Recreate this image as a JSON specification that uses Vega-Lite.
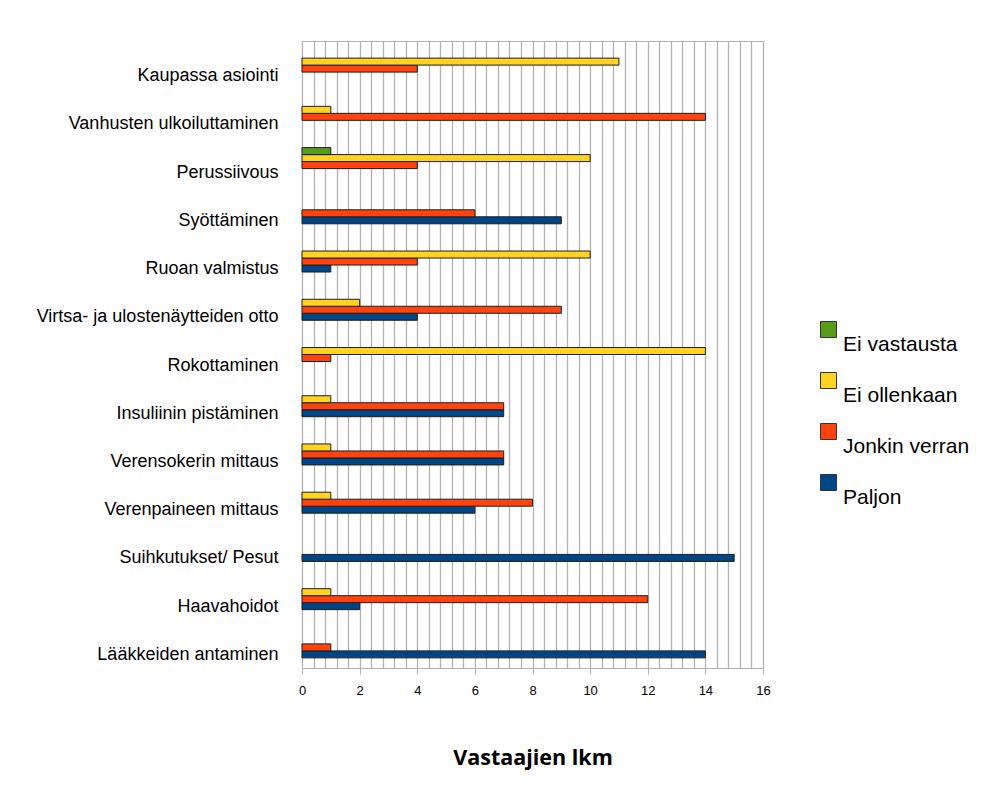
{
  "$schema": "https://vega.github.io/schema/vega-lite/v6.json",
  "width": 461,
  "height": 627,
  "autosize": {"type": "none"},
  "padding": {"left": 302, "top": 41, "right": 222, "bottom": 124},
  "background": "white",
  "data": {
    "values": [
      {"tehtava": "Kaupassa asiointi", "vastaus": "Jonkin verran", "lkm": 4},
      {"tehtava": "Kaupassa asiointi", "vastaus": "Ei ollenkaan", "lkm": 11},
      {"tehtava": "Vanhusten ulkoiluttaminen", "vastaus": "Jonkin verran", "lkm": 14},
      {"tehtava": "Vanhusten ulkoiluttaminen", "vastaus": "Ei ollenkaan", "lkm": 1},
      {"tehtava": "Perussiivous", "vastaus": "Jonkin verran", "lkm": 4},
      {"tehtava": "Perussiivous", "vastaus": "Ei ollenkaan", "lkm": 10},
      {"tehtava": "Perussiivous", "vastaus": "Ei vastausta", "lkm": 1},
      {"tehtava": "Syöttäminen", "vastaus": "Paljon", "lkm": 9},
      {"tehtava": "Syöttäminen", "vastaus": "Jonkin verran", "lkm": 6},
      {"tehtava": "Ruoan valmistus", "vastaus": "Paljon", "lkm": 1},
      {"tehtava": "Ruoan valmistus", "vastaus": "Jonkin verran", "lkm": 4},
      {"tehtava": "Ruoan valmistus", "vastaus": "Ei ollenkaan", "lkm": 10},
      {"tehtava": "Virtsa- ja ulostenäytteiden otto", "vastaus": "Paljon", "lkm": 4},
      {"tehtava": "Virtsa- ja ulostenäytteiden otto", "vastaus": "Jonkin verran", "lkm": 9},
      {"tehtava": "Virtsa- ja ulostenäytteiden otto", "vastaus": "Ei ollenkaan", "lkm": 2},
      {"tehtava": "Rokottaminen", "vastaus": "Jonkin verran", "lkm": 1},
      {"tehtava": "Rokottaminen", "vastaus": "Ei ollenkaan", "lkm": 14},
      {"tehtava": "Insuliinin pistäminen", "vastaus": "Paljon", "lkm": 7},
      {"tehtava": "Insuliinin pistäminen", "vastaus": "Jonkin verran", "lkm": 7},
      {"tehtava": "Insuliinin pistäminen", "vastaus": "Ei ollenkaan", "lkm": 1},
      {"tehtava": "Verensokerin mittaus", "vastaus": "Paljon", "lkm": 7},
      {"tehtava": "Verensokerin mittaus", "vastaus": "Jonkin verran", "lkm": 7},
      {"tehtava": "Verensokerin mittaus", "vastaus": "Ei ollenkaan", "lkm": 1},
      {"tehtava": "Verenpaineen mittaus", "vastaus": "Paljon", "lkm": 6},
      {"tehtava": "Verenpaineen mittaus", "vastaus": "Jonkin verran", "lkm": 8},
      {"tehtava": "Verenpaineen mittaus", "vastaus": "Ei ollenkaan", "lkm": 1},
      {"tehtava": "Suihkutukset/ Pesut", "vastaus": "Paljon", "lkm": 15},
      {"tehtava": "Haavahoidot", "vastaus": "Paljon", "lkm": 2},
      {"tehtava": "Haavahoidot", "vastaus": "Jonkin verran", "lkm": 12},
      {"tehtava": "Haavahoidot", "vastaus": "Ei ollenkaan", "lkm": 1},
      {"tehtava": "Lääkkeiden antaminen", "vastaus": "Paljon", "lkm": 14},
      {"tehtava": "Lääkkeiden antaminen", "vastaus": "Jonkin verran", "lkm": 1}
    ]
  },
  "mark": {"type": "bar", "stroke": "#1e1e1e", "strokeWidth": 1},
  "encoding": {
    "y": {
      "field": "tehtava",
      "type": "nominal",
      "sort": ["Kaupassa asiointi", "Vanhusten ulkoiluttaminen", "Perussiivous", "Syöttäminen", "Ruoan valmistus", "Virtsa- ja ulostenäytteiden otto", "Rokottaminen", "Insuliinin pistäminen", "Verensokerin mittaus", "Verenpaineen mittaus", "Suihkutukset/ Pesut", "Haavahoidot", "Lääkkeiden antaminen"],
      "scale": {"paddingInner": 0.42, "paddingOuter": 0.21},
      "axis": {
        "title": null,
        "ticks": false,
        "domain": true,
        "domainColor": "#b3b3b3",
        "labelFont": "Liberation Sans",
        "labelFontSize": 18,
        "labelColor": "#000000",
        "labelPadding": 24,
        "labelOffset": 7,
        "labelLimit": 400
      }
    },
    "yOffset": {
      "field": "vastaus",
      "type": "nominal",
      "sort": ["Ei vastausta", "Ei ollenkaan", "Jonkin verran", "Paljon"],
      "scale": {"domain": ["Ei vastausta", "Ei ollenkaan", "Jonkin verran", "Paljon"], "paddingInner": 0, "paddingOuter": 0}
    },
    "x": {
      "field": "lkm",
      "type": "quantitative",
      "scale": {"domain": [0, 16], "nice": false},
      "axis": {
        "title": "Vastaajien lkm",
        "titleFont": "Open Sans",
        "titleFontSize": 21.5,
        "titleFontWeight": "bold",
        "titleColor": "#000000",
        "titlePadding": 50,
        "values": [0, 0.4, 0.8, 1.2, 1.6, 2, 2.4, 2.8, 3.2, 3.6, 4, 4.4, 4.8, 5.2, 5.6, 6, 6.4, 6.8, 7.2, 7.6, 8, 8.4, 8.8, 9.2, 9.6, 10, 10.4, 10.8, 11.2, 11.6, 12, 12.4, 12.8, 13.2, 13.6, 14, 14.4, 14.8, 15.2, 15.6, 16],
        "labelExpr": "abs(datum.value/2 - round(datum.value/2)) < 0.01 ? format(datum.value, 'd') : ''",
        "labelOverlap": false,
        "labelFlush": false,
        "labelFont": "Liberation Sans",
        "labelFontSize": 13,
        "labelColor": "#000000",
        "labelPadding": 6,
        "grid": true,
        "gridColor": "#b3b3b3",
        "gridWidth": 1.3,
        "ticks": true,
        "tickColor": "#b3b3b3",
        "tickSize": 6,
        "tickOpacity": {"condition": {"test": "abs(datum.value/2 - round(datum.value/2)) < 0.01", "value": 1}, "value": 0},
        "domainColor": "#b3b3b3"
      }
    },
    "color": {
      "field": "vastaus",
      "type": "nominal",
      "scale": {
        "domain": ["Ei vastausta", "Ei ollenkaan", "Jonkin verran", "Paljon"],
        "range": ["#579d1c", "#ffd320", "#ff420e", "#004586"]
      },
      "legend": {
        "title": null,
        "orient": "none",
        "legendX": 516,
        "legendY": 278,
        "symbolType": "square",
        "symbolSize": 256,
        "symbolStrokeColor": "#333333",
        "symbolStrokeWidth": 1,
        "symbolOpacity": 1,
        "labelFont": "Liberation Sans",
        "labelFontSize": 21,
        "labelColor": "#000000",
        "labelBaseline": "top",
        "labelOffset": 4,
        "rowPadding": 15,
        "labelLimit": 300
      }
    }
  },
  "config": {
    "view": {"stroke": "#b3b3b3", "strokeWidth": 1},
    "style": {"guide-label": {"dy": 4}}
  }
}
